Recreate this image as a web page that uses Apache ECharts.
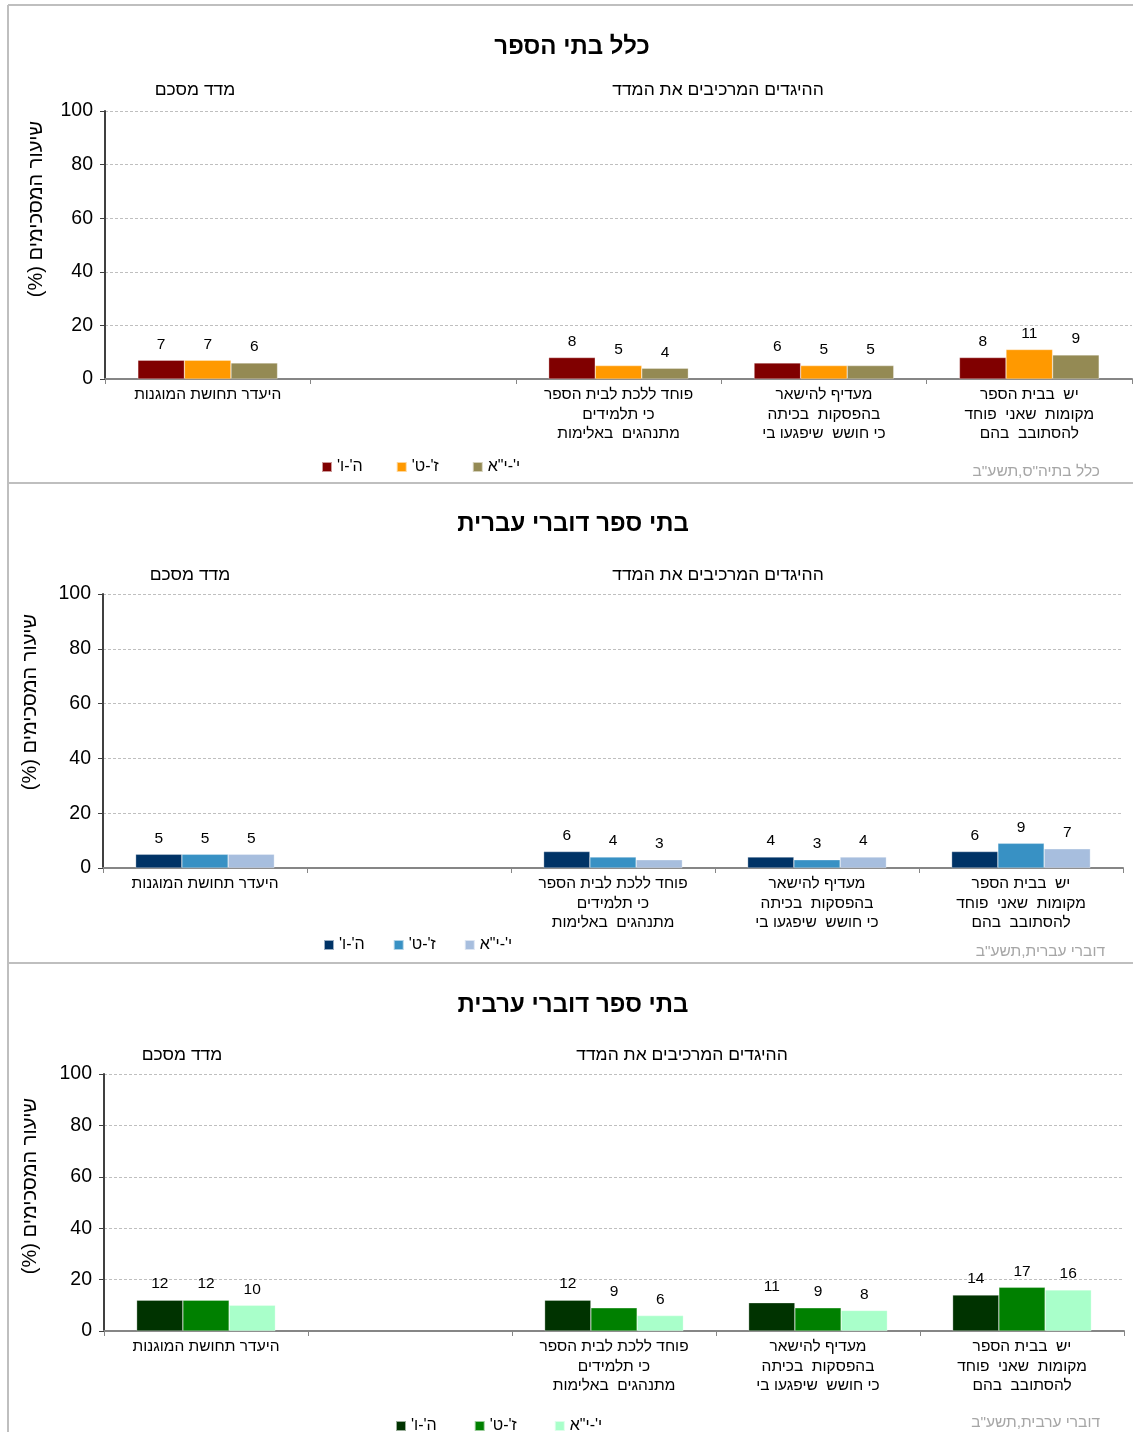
<!DOCTYPE html>
<html lang="he">
<head>
<meta charset="utf-8">
<script src="https://cdn.jsdelivr.net/npm/echarts@6/dist/echarts.min.js"></script>
<style>
html,body{margin:0;padding:0;background:#fff;}
#c{position:absolute;left:0;top:0;width:1133px;height:1432px;direction:rtl;}
</style>
</head>
<body>
<div id="c"></div>
<script>
// ---- data ----
const categories = [
  'היעדר תחושת המוגנות',
  '',
  'פוחד ללכת לבית הספר\nכי תלמידים\nמתנהגים  באלימות',
  'מעדיף להישאר\nבהפסקות  בכיתה\nכי חושש  שיפגעו בי',
  'יש  בבית הספר\nמקומות  שאני  פוחד\nלהסתובב  בהם'
];
const seriesNames = ["ה'-ו'", "ז'-ט'", 'י\'-י"א'];
const yTicks = [0, 20, 40, 60, 80, 100];

const panelTitles = ['כלל בתי הספר', 'בתי ספר דוברי עברית', 'בתי ספר דוברי ערבית'];
const panelNotes = ['כלל בתיה"ס,תשע"ב', 'דוברי עברית,תשע"ב', 'דוברי ערבית,תשע"ב'];
const subIndex = 'מדד מסכם';
const subItems = 'ההיגדים המרכיבים את המדד';
const yName = 'שיעור המסכימים (%)';

// all schools
const all_5_6 = [7, null, 8, 6, 8];
const all_7_9 = [7, null, 5, 5, 11];
const all_10_11 = [6, null, 4, 5, 9];
// Hebrew-speaking
const heb_5_6 = [5, null, 6, 4, 6];
const heb_7_9 = [5, null, 4, 3, 9];
const heb_10_11 = [5, null, 3, 4, 7];
// Arabic-speaking
const arb_5_6 = [12, null, 12, 11, 14];
const arb_7_9 = [12, null, 9, 9, 17];
const arb_10_11 = [10, null, 6, 8, 16];

const panelData = [
  [all_5_6, all_7_9, all_10_11],
  [heb_5_6, heb_7_9, heb_10_11],
  [arb_5_6, arb_7_9, arb_10_11]
];
const panelColors = [
  ['#800000', '#FF9900', '#948A54'],
  ['#003366', '#3891C4', '#A7BEDE'],
  ['#003300', '#008000', '#A9FFCA']
];

// ---- layout ----
const FONT = "'Liberation Sans', Arial, 'DejaVu Sans', sans-serif";
const layout = [
  {grid:{left:105, top:111, width:1027, height:268}, title:[572,47], sub:[[195,90],[718,90]], note:[1100,472], legend:[316,454], lgap:33, yname:[36,209]},
  {grid:{left:103, top:594, width:1020, height:274}, title:[573,524], sub:[[190,575],[718,575]], note:[1105,952], legend:[318,932], lgap:28, yname:[30,702]},
  {grid:{left:104, top:1074, width:1020, height:257}, title:[573,1005], sub:[[182,1055],[682,1055]], note:[1100,1423], legend:[390,1413], lgap:37, yname:[30,1186]}
];

const grids = [], xAxes = [], yAxes = [], series = [], legends = [], graphics = [];

layout.forEach((L, p) => {
  grids.push(L.grid);
  xAxes.push({
    type:'category', gridIndex:p, data:categories,
    axisLine:{lineStyle:{color:'#868686', width:2}},
    axisTick:{show:true, length:5, lineStyle:{color:'#868686', width:1}},
    axisLabel:{color:'#000', fontFamily:FONT, fontSize:15.5, lineHeight:19.5, margin:6, interval:0}
  });
  yAxes.push({
    type:'value', gridIndex:p, min:yTicks[0], max:yTicks[yTicks.length-1], interval:20,
    axisLine:{show:true, lineStyle:{color:'#404040', width:2}},
    axisTick:{show:true, length:5, lineStyle:{color:'#404040'}},
    axisLabel:{color:'#000', fontFamily:FONT, fontSize:19.5, margin:12},
    splitLine:{show:true, lineStyle:{color:'#BFBFBF', type:[3,2], width:1}}
  });
  const names = seriesNames.map(n => n + '\u200B'.repeat(p)); // unique names per panel
  panelData[p].forEach((vals, s) => {
    series.push({
      type:'bar', name:names[s], xAxisIndex:p, yAxisIndex:p,
      data:vals, barGap:'0%', barCategoryGap:'32%',
      itemStyle:{color:panelColors[p][s], borderColor:'rgba(255,255,255,0.6)', borderWidth:0.5},
      label:{show:true, position:'top', distance:8, color:'#000', fontFamily:FONT, fontSize:15.5},
      animation:false
    });
  });
  legends.push({
    data:names, left:L.legend[0], top:L.legend[1], orient:'horizontal',
    itemWidth:10, itemHeight:10, itemGap:L.lgap, icon:'rect',
    textStyle:{color:'#000', fontFamily:FONT, fontSize:16},
    formatter: n => n.replace(/\u200B/g, ''),
    selectedMode:false
  });
  graphics.push({type:'text', style:{text:panelTitles[p], x:L.title[0], y:L.title[1], align:'center', verticalAlign:'middle', font:'bold 24px ' + FONT, fill:'#000'}});
  graphics.push({type:'text', style:{text:subIndex, x:L.sub[0][0], y:L.sub[0][1], align:'center', verticalAlign:'middle', font:'17.5px ' + FONT, fill:'#000'}});
  graphics.push({type:'text', style:{text:subItems, x:L.sub[1][0], y:L.sub[1][1], align:'center', verticalAlign:'middle', font:'17.5px ' + FONT, fill:'#000'}});
  graphics.push({type:'text', style:{text:panelNotes[p], x:L.note[0], y:L.note[1], align:'right', verticalAlign:'middle', font:'15.5px ' + FONT, fill:'#A6A6A6'}});
  graphics.push({type:'text', x:L.yname[0], y:L.yname[1], rotation:Math.PI/2, style:{text:yName, x:0, y:0, align:'center', verticalAlign:'middle', font:'20px ' + FONT, fill:'#000'}});
});

// frame lines
const frameColor = '#BFBFBF';
[[8,5,1133,5],[8,483,1133,483],[8,963,1133,963],[8,5,8,1432]].forEach(l => {
  graphics.push({type:'line', shape:{x1:l[0], y1:l[1], x2:l[2], y2:l[3]}, style:{stroke:frameColor, lineWidth:2}, silent:true});
});

const chart = echarts.init(document.getElementById('c'), null, {renderer:'canvas'});
chart.setOption({
  animation:false,
  backgroundColor:'#fff',
  grid:grids, xAxis:xAxes, yAxis:yAxes, series:series, legend:legends,
  graphic:graphics
});
</script>
</body>
</html>
